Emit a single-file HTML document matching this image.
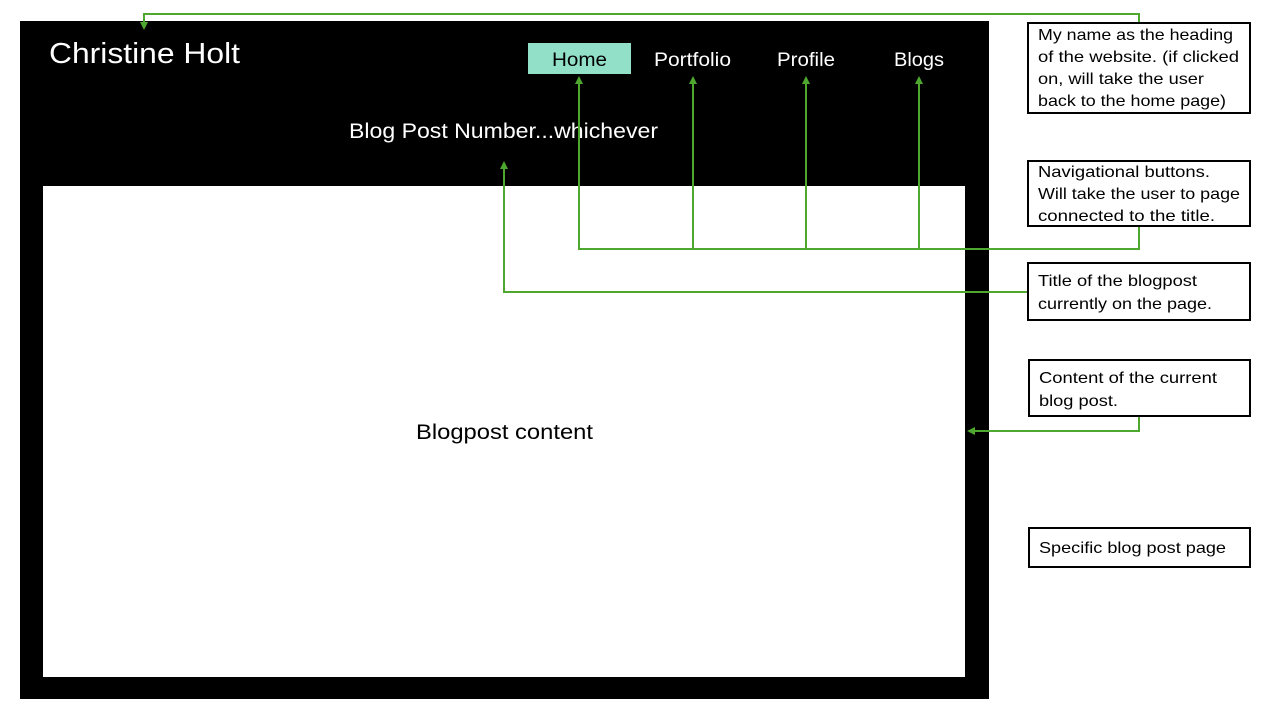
<!DOCTYPE html>
<html><head><meta charset="utf-8"><style>
html,body{margin:0;padding:0;background:#fff;width:1280px;height:720px;overflow:hidden}
svg{display:block}
text{font-family:"Liberation Sans",sans-serif}
</style></head><body>
<svg width="1280" height="720" viewBox="0 0 1280 720" xmlns="http://www.w3.org/2000/svg">
<defs><marker id="a" markerWidth="8" markerHeight="8" refX="4" refY="4" orient="auto" markerUnits="userSpaceOnUse"><path d="M0,0 L8,4 L0,8 z" fill="#4ea72e"/></marker></defs>
<rect x="20" y="21" width="969" height="678" fill="#000"/>
<rect x="43" y="186" width="922" height="491" fill="#fff"/>
<text x="49" y="63" font-size="29" fill="#fff" textLength="191" lengthAdjust="spacingAndGlyphs">Christine Holt</text>
<rect x="528" y="43" width="103" height="31" fill="#92e0c8"/>
<text x="552" y="66" font-size="19" fill="#000" textLength="55" lengthAdjust="spacingAndGlyphs">Home</text>
<text x="654" y="66" font-size="19" fill="#fff" textLength="77" lengthAdjust="spacingAndGlyphs">Portfolio</text>
<text x="777" y="66" font-size="19" fill="#fff" textLength="58" lengthAdjust="spacingAndGlyphs">Profile</text>
<text x="894" y="66" font-size="19" fill="#fff" textLength="50" lengthAdjust="spacingAndGlyphs">Blogs</text>
<text x="349" y="138" font-size="21" fill="#fff" textLength="309" lengthAdjust="spacingAndGlyphs">Blog Post Number...whichever</text>
<text x="416" y="439" font-size="21" fill="#000" textLength="177" lengthAdjust="spacingAndGlyphs">Blogpost content</text>
<g fill="none" stroke="#4ea72e" stroke-width="2">
<polyline points="1139,22 1139,14 144,14 144,26" marker-end="url(#a)"/>
<polyline points="1139,226 1139,249 579,249 579,80" marker-end="url(#a)"/>
<polyline points="693,249 693,80" marker-end="url(#a)"/>
<polyline points="806,249 806,80" marker-end="url(#a)"/>
<polyline points="919,249 919,80" marker-end="url(#a)"/>
<polyline points="1027,292 504,292 504,165" marker-end="url(#a)"/>
<polyline points="1139,417 1139,431 971,431" marker-end="url(#a)"/>
</g>
<g fill="#fff" stroke="#000" stroke-width="2">
<rect x="1028" y="23" width="222" height="90"/>
<rect x="1028" y="161" width="222" height="65"/>
<rect x="1028" y="263" width="222" height="57"/>
<rect x="1029" y="360" width="221" height="56"/>
<rect x="1029" y="528" width="221" height="39"/>
</g>
<g font-size="16" fill="#000">
<text x="1038" y="40" textLength="195" lengthAdjust="spacingAndGlyphs">My name as the heading</text>
<text x="1038" y="62" textLength="201" lengthAdjust="spacingAndGlyphs">of the website. (if clicked</text>
<text x="1038" y="84" textLength="166" lengthAdjust="spacingAndGlyphs">on, will take the user</text>
<text x="1038" y="106" textLength="188" lengthAdjust="spacingAndGlyphs">back to the home page)</text>
<text x="1038" y="177" textLength="172" lengthAdjust="spacingAndGlyphs">Navigational buttons.</text>
<text x="1038" y="199" textLength="202" lengthAdjust="spacingAndGlyphs">Will take the user to page</text>
<text x="1038" y="221" textLength="177" lengthAdjust="spacingAndGlyphs">connected to the title.</text>
<text x="1038" y="286" textLength="159" lengthAdjust="spacingAndGlyphs">Title of the blogpost</text>
<text x="1038" y="309" textLength="174" lengthAdjust="spacingAndGlyphs">currently on the page.</text>
<text x="1039" y="383" textLength="178" lengthAdjust="spacingAndGlyphs">Content of the current</text>
<text x="1039" y="406" textLength="79" lengthAdjust="spacingAndGlyphs">blog post.</text>
<text x="1039" y="553" textLength="187" lengthAdjust="spacingAndGlyphs">Specific blog post page</text>
</g>
</svg>
</body></html>
